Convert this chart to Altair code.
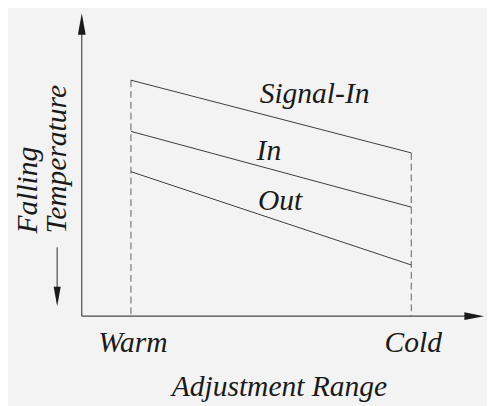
import altair as alt
import pandas as pd

# ---- data ----
series = ["Signal-In", "In", "Out"]
positions = ["Warm", "Cold"]
warm_temp = [77.9, 61.0, 47.7]
cold_temp = [53.9, 36.0, 16.9]

rows = []
for s, w, c in zip(series, warm_temp, cold_temp):
    rows.append({"series": s, "pos": 0, "temp": w})
    rows.append({"series": s, "pos": 1, "temp": c})
lines_df = pd.DataFrame(rows)

# ---- layout / style ----
W, H = 407, 308
FONT = "Liberation Serif"
INK = "#1a1a1a"
BG = "#f3f3f3"
xscale = alt.Scale(domain=[-0.1754, 1.2526], nice=False, zero=False)
yscale = alt.Scale(domain=[0, 100], nice=False, zero=False)
txt = dict(font=FONT, fontStyle="italic", fontSize=30, color=INK)
one = alt.Data(values=[{}])

lines = alt.Chart(lines_df).mark_line(color="#3a3a3a", strokeWidth=1).encode(
    x=alt.X("pos:Q", scale=xscale, axis=None),
    y=alt.Y("temp:Q", scale=yscale, axis=None),
    detail="series:N",
)

guide_df = pd.DataFrame({"pos": [0, 1], "top": [warm_temp[0], cold_temp[0]]})
guides = alt.Chart(guide_df).mark_rule(color="#606060", strokeWidth=1, strokeDash=[7, 4]).encode(
    x=alt.X("pos:Q", scale=xscale, axis=None),
    y=alt.Y("top:Q", scale=yscale, axis=None),
    y2=alt.datum(0),
)

tick_df = pd.DataFrame({"pos": [0, 1], "name": positions})
ticks = alt.Chart(tick_df).mark_text(align="center", baseline="alphabetic", dx=2, **txt).encode(
    x=alt.X("pos:Q", scale=xscale, axis=None),
    y=alt.value(H + 36),
    text="name:N",
)

# series labels anchored on their lines
label_frac = {"Signal-In": 0.655, "In": 0.492, "Out": 0.532}
label_dy = {"Signal-In": -25, "In": -9, "Out": -12}
label_layers = []
for s, w, c in zip(series, warm_temp, cold_temp):
    f = label_frac[s]
    ldf = pd.DataFrame({"series": [s], "pos": [f], "temp": [w + (c - w) * f]})
    label_layers.append(
        alt.Chart(ldf).mark_text(align="center", baseline="alphabetic", dy=label_dy[s], **txt).encode(
            x=alt.X("pos:Q", scale=xscale, axis=None),
            y=alt.Y("temp:Q", scale=yscale, axis=None),
            text="series:N",
        )
    )

# axes drawn as arrows
axis_color = "#4a4a4a"
yaxis = alt.Chart(one).mark_rule(color=axis_color, strokeWidth=1.2).encode(
    x=alt.value(0), y=alt.value(14), y2=alt.value(H))
xaxis = alt.Chart(one).mark_rule(color=axis_color, strokeWidth=1.2).encode(
    x=alt.value(0), x2=alt.value(W - 6), y=alt.value(H))
yhead = alt.Chart(one).mark_point(shape="M0,-1L0.36,1L-0.36,1Z", size=484, filled=True,
                                  color=INK, opacity=1, strokeWidth=0).encode(
    x=alt.value(0), y=alt.value(11))
xhead = alt.Chart(one).mark_point(shape="M1,0L-1,0.4L-1,-0.4Z", size=400, filled=True,
                                  color=INK, opacity=1, strokeWidth=0).encode(
    x=alt.value(W - 8), y=alt.value(H))

# axis titles
xtitle = alt.Chart(one).mark_text(align="center", baseline="alphabetic", text="Adjustment Range", **txt).encode(
    x=alt.value(201), y=alt.value(389))
ytitle1 = alt.Chart(one).mark_text(align="left", baseline="alphabetic", angle=270, text="Falling", **txt).encode(
    x=alt.value(-46), y=alt.value(224))
ytitle2 = alt.Chart(one).mark_text(align="left", baseline="alphabetic", angle=270, text="Temperature", **txt).encode(
    x=alt.value(-16), y=alt.value(224))
tarrow = alt.Chart(one).mark_rule(color=axis_color, strokeWidth=1.2).encode(
    x=alt.value(-25), y=alt.value(238), y2=alt.value(282))
thead = alt.Chart(one).mark_point(shape="M0,1L0.36,-1L-0.36,-1Z", size=400, filled=True,
                                  color=INK, opacity=1, strokeWidth=0).encode(
    x=alt.value(-25), y=alt.value(288))

chart = alt.layer(
    guides, lines, *label_layers, ticks,
    yaxis, xaxis, yhead, xhead,
    xtitle, ytitle1, ytitle2, tarrow, thead,
).properties(
    width=W, height=H,
    padding={"left": 75, "top": 2, "right": 5, "bottom": 88},
    autosize="none",
    background=BG,
).configure_view(stroke=None)

chart.save("out.html", embed_options={"renderer": "svg", "actions": False})
